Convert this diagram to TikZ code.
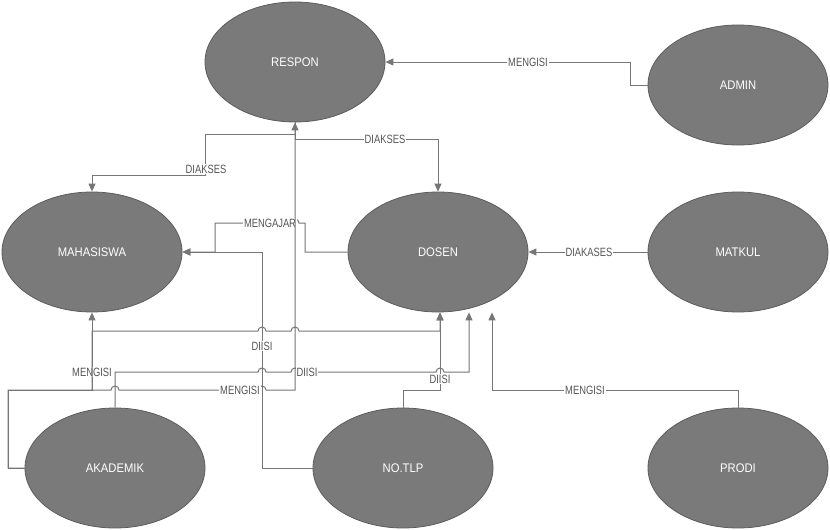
\documentclass[tikz,border=0pt]{standalone}
\usepackage{fontspec}
\usetikzlibrary{shapes.geometric,arrows.meta}
\newfontfamily\nodefnt[FakeStretch=0.9]{Liberation Sans}
\newfontfamily\lblfnt[FakeStretch=0.78]{Liberation Sans}
\definecolor{ellfill}{RGB}{122,122,122}
\definecolor{elldraw}{RGB}{92,92,92}
\definecolor{edgecol}{RGB}{118,118,118}
\definecolor{lblcol}{RGB}{85,85,85}
\begin{document}
\begin{tikzpicture}[x=1pt,y=-1pt,
  ent/.style={ellipse,fill=ellfill,draw=elldraw,line width=0.8pt,minimum width=180pt,minimum height=120pt,inner sep=0pt,text=white,font=\nodefnt\fontsize{12.5}{14}\selectfont},
  edge/.style={draw=edgecol,line width=1pt,-{Triangle[length=8pt,width=7pt]}},
  plain/.style={draw=edgecol,line width=1pt},
  lbl/.style={fill=white,inner sep=1pt,text=lblcol,font=\lblfnt\fontsize{12}{13}\selectfont}]
\useasboundingbox[fill=white] (0,0) rectangle (830,530);

\node[ent] (respon) at (295,62) {RESPON};
\node[ent] (admin)  at (738,85) {ADMIN};
\node[ent] (mhs)    at (92,252) {MAHASISWA};
\node[ent] (dosen)  at (438,252) {DOSEN};
\node[ent] (matkul) at (738,252) {MATKUL};
\node[ent] (akad)   at (115,468) {AKADEMIK};
\node[ent] (notlp)  at (403,468) {NO.TLP};
\node[ent] (prodi)  at (738,468) {PRODI};

% ADMIN -> RESPON
\draw[edge] (admin.west) -- (630,85) -- (630,62) -- (respon.east);
\node[lbl] (l1) at (528,62) {MENGISI};

% RESPON -> MAHASISWA
\draw[edge] (respon.south) -- (295,134) -- (205,134) -- (205,175) -- (92,175) -- (mhs.north);
\node[lbl] (l2) at (206,169) {DIAKSES};

% RESPON -> DOSEN
\draw[edge] (respon.south) -- (295,139) -- (438,139) -- (dosen.north);
\node[lbl] (l3) at (385,139) {DIAKSES};

% MATKUL -> DOSEN
\draw[edge] (matkul.west) -- (dosen.east);
\node[lbl] (l4) at (589,252) {DIAKASES};

% PRODI -> DOSEN
\draw[edge] (prodi.north) -- (738,390) -- (492,390) -- (492,0 |- dosen.south);
\node[lbl] (l5) at (585,390) {MENGISI};

% NO.TLP -> MAHASISWA
\draw[edge] (notlp.west) -- (262,468) -- (262,252) -- (mhs.east);
\node[lbl] (l7) at (262,346) {DIISI};

% DOSEN -> MAHASISWA
\draw[edge] (dosen.west) -- (305,252) -- (305,223) -- (299,223)
  arc[start angle=0,end angle=-180,radius=4] -- (215,223) -- (215,252) -- (mhs.east);
\node[lbl] (l6) at (270,223) {MENGAJAR};

% AKADEMIK -> RESPON
\draw[edge] (akad.west) -- (8,468) -- (8,390) -- (111,390)
  arc[start angle=180,end angle=360,radius=4] -- (258,390)
  arc[start angle=180,end angle=360,radius=4] -- (295,390) -- (respon.south);
\node[lbl] (l8) at (240,390) {MENGISI};

% AKADEMIK -> MAHASISWA
\draw[edge] (akad.west) -- (8,468) -- (8,390) -- (92,390) -- (mhs.south);
\node[lbl] (l9) at (92,372) {MENGISI};

% AKADEMIK -> DOSEN (via MAHASISWA line)
\draw[edge] (92,390) -- (92,331) -- (258,331)
  arc[start angle=180,end angle=360,radius=4] -- (291,331)
  arc[start angle=180,end angle=360,radius=4] -- (440,331) -- (440,0 |- dosen.south);

% AKADEMIK -> DOSEN
\draw[edge] (akad.north) -- (115,372) -- (258,372)
  arc[start angle=180,end angle=360,radius=4] -- (291,372)
  arc[start angle=180,end angle=360,radius=4] -- (436,372)
  arc[start angle=180,end angle=360,radius=4] -- (469,372) -- (469,0 |- dosen.south);
\node[lbl] (l11) at (307,372) {DIISI};

% NO.TLP -> DOSEN
\draw[edge] (notlp.north) -- (403,390) -- (440,390) -- (440,0 |- dosen.south);
\node[lbl] (l12) at (440,379) {DIISI};
\end{tikzpicture}
\end{document}
